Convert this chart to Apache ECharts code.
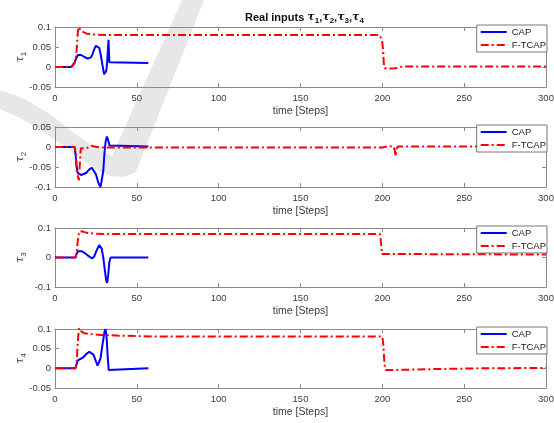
<!DOCTYPE html>
<html>
<head>
<meta charset="utf-8">
<script src="https://cdn.jsdelivr.net/npm/echarts@6/dist/echarts.min.js"></script>
<style>
  html, body { margin: 0; padding: 0; background: #fff; }
  #chart { width: 554px; height: 423px; }
</style>
</head>
<body>
<div id="chart"></div>
<script>
// ---- data: control inputs over time steps ----
const seriesNames = ['CAP', 'F-TCAP'];
const xTicks = [0, 50, 100, 150, 200, 250, 300];

const tau1Ticks = [-0.05, 0, 0.05, 0.1];
const tau2Ticks = [-0.1, -0.05, 0, 0.05];
const tau3Ticks = [-0.1, 0, 0.1];
const tau4Ticks = [-0.05, 0, 0.05, 0.1];

const tau1Cap = [[0,0],[10,0],[11,0.004],[12,0.012],[13,0.022],[14,0.03],[15,0.031],[16,0.03],[18,0.025],[20,0.021],[21,0.021],[22,0.024],[23,0.033],[24,0.045],[25,0.053],[26,0.055],[27,0.048],[28,0.03],[29,0.005],[30,-0.018],[30.7,-0.023],[31.3,-0.01],[31.8,0.008],[32.3,0.012],[32.7,0.068],[33.2,0.012],[34,0.01],[57,0.01]];
const tau1Ftcap = [[0,0],[10,0],[11,0.003],[12,0.01],[13,0.03],[13.5,0.06],[14,0.09],[14.5,0.1],[15,0.095],[16,0.09],[17,0.087],[19,0.084],[22,0.082],[26,0.0805],[35,0.08],[198,0.08],[199,0.078],[199.8,0.069],[200.5,0.04],[201,0.003],[201.5,-0.003],[205,-0.004],[208,-0.003],[212,0.001],[300,0.001]];

const tau2Cap = [[0,0],[12,0],[12.6,-0.02],[13.2,-0.05],[14,-0.066],[15,-0.07],[16,-0.07],[17,-0.069],[19,-0.065],[21,-0.056],[22.5,-0.052],[23.5,-0.054],[25,-0.068],[26.5,-0.09],[27.8,-0.1],[28.5,-0.095],[29.5,-0.06],[30.3,-0.01],[31,0.015],[31.7,0.026],[32.5,0.017],[33.3,0.004],[34.5,0],[57,0.001]];
const tau2Ftcap = [[0,0],[12,0],[12.8,-0.02],[13.4,-0.065],[14,-0.068],[14.6,-0.083],[15.2,-0.04],[15.8,-0.003],[17,-0.004],[19,-0.003],[21,0],[22.5,0.003],[24,0.001],[27,-0.001],[200,-0.001],[201,0.002],[204,0.002],[207,0.001],[207.6,-0.01],[208.2,-0.023],[208.7,-0.005],[209.5,0.001],[300,0.001]];

const tau3Cap = [[0,0],[12.5,0],[13.2,0.012],[14,0.021],[15,0.022],[16.5,0.021],[18,0.016],[20,0.007],[21.5,0.001],[22.8,-0.003],[24,0.004],[25.5,0.025],[27,0.042],[27.6,0.043],[28.5,0.03],[29.5,0],[30.5,-0.045],[31.3,-0.078],[31.9,-0.086],[32.5,-0.06],[33.2,-0.015],[34,0],[57,0]];
const tau3Ftcap = [[0,0],[12.5,0],[13.3,0.02],[14,0.06],[14.8,0.088],[15.5,0.092],[16.5,0.089],[18,0.086],[20,0.083],[24,0.081],[30,0.08],[198.6,0.08],[199.2,0.05],[199.7,0.012],[200.5,0.01],[300,0.01]];

const tau4Cap = [[0,0],[12.5,0],[13.3,0.012],[14,0.02],[15,0.022],[17,0.027],[19,0.036],[21,0.042],[22,0.042],[23.5,0.035],[25,0.018],[26,0.007],[26.8,0.008],[27.8,0.025],[29,0.06],[30.2,0.092],[30.9,0.1],[31.5,0.08],[32.2,0.03],[32.8,-0.004],[33.2,-0.007],[34,0],[57,0]];
const tau4Ftcap = [[0,0],[12.5,0],[13.3,0.02],[14,0.07],[14.6,0.102],[15.2,0.096],[16,0.092],[18,0.089],[22,0.087],[28,0.085],[40,0.083],[60,0.081],[200,0.081],[200.6,0.06],[201.3,0.01],[202,-0.004],[210,-0.004],[230,-0.002],[260,0],[300,0.001]];

// ---- panel layout ----
const panels = [
  { idx: 1, ticks: tau1Ticks, cap: tau1Cap, ftcap: tau1Ftcap, top: 27,  height: 60 },
  { idx: 2, ticks: tau2Ticks, cap: tau2Cap, ftcap: tau2Ftcap, top: 127, height: 60 },
  { idx: 3, ticks: tau3Ticks, cap: tau3Cap, ftcap: tau3Ftcap, top: 228, height: 59 },
  { idx: 4, ticks: tau4Ticks, cap: tau4Cap, ftcap: tau4Ftcap, top: 329, height: 59 }
];

const FONT = 'Liberation Sans, Arial, Helvetica, sans-serif';
const AXIS_COLOR = '#8a8a8a';
const TEXT_COLOR = '#3a3a3a';

const grids = [], xAxes = [], yAxes = [], series = [], legends = [];

panels.forEach((p, i) => {
  grids.push({ left: 55, right: 8, top: p.top, height: p.height, outerBoundsMode: 'none', containLabel: false });
  const yMin = p.ticks[0], yMax = p.ticks[p.ticks.length - 1];
  const yInt = p.ticks[1] - p.ticks[0];
  const xCommon = {
    type: 'value', gridIndex: i, min: xTicks[0], max: xTicks[xTicks.length - 1],
    interval: xTicks[1] - xTicks[0],
    axisLine: { show: true, onZero: false, lineStyle: { color: AXIS_COLOR, width: 1 } },
    axisTick: { show: true, inside: true, length: 4, lineStyle: { color: AXIS_COLOR } },
    splitLine: { show: false }
  };
  xAxes.push(Object.assign({}, xCommon, {
    position: 'bottom',
    axisLabel: { color: TEXT_COLOR, fontSize: 9.5, fontFamily: FONT, margin: 6 },
    name: 'time [Steps]', nameLocation: 'middle', nameGap: 19, nameMoveOverlap: false,
    nameTextStyle: { color: TEXT_COLOR, fontSize: 10.5, fontFamily: FONT }
  }));
  xAxes.push(Object.assign({}, xCommon, { position: 'top', axisLabel: { show: false } }));

  const yCommon = {
    type: 'value', gridIndex: i, min: yMin, max: yMax, interval: yInt,
    axisLine: { show: true, onZero: false, lineStyle: { color: AXIS_COLOR, width: 1 } },
    axisTick: { show: true, inside: true, length: 4, lineStyle: { color: AXIS_COLOR } },
    splitLine: { show: false }
  };
  yAxes.push(Object.assign({}, yCommon, {
    position: 'left',
    axisLabel: { color: TEXT_COLOR, fontSize: 9.5, fontFamily: FONT, margin: 4 },
    name: '{t|τ}{s|' + p.idx + '}', nameLocation: 'middle', nameGap: 27, nameRotate: 90,
    nameMoveOverlap: false,
    nameTextStyle: {
      rich: {
        t: { fontSize: 11, fontFamily: 'DejaVu Serif, serif', fontStyle: 'italic', color: TEXT_COLOR },
        s: { fontSize: 8, fontFamily: FONT, color: TEXT_COLOR, padding: [7, 0, 0, 0] }
      }
    }
  }));
  yAxes.push(Object.assign({}, yCommon, { position: 'right', axisLabel: { show: false } }));

  series.push({
    name: seriesNames[0], type: 'line', xAxisIndex: 2 * i, yAxisIndex: 2 * i,
    data: p.cap, symbol: 'none', z: 3,
    lineStyle: { color: '#0000ff', width: 2 }, itemStyle: { color: '#0000ff' }
  });
  series.push({
    name: seriesNames[1], type: 'line', xAxisIndex: 2 * i, yAxisIndex: 2 * i,
    data: p.ftcap, symbol: 'none', z: 4,
    lineStyle: { color: '#ff0000', width: 2, type: [8, 3, 2, 3] }, itemStyle: { color: '#ff0000' }
  });

  legends.push({
    data: seriesNames, orient: 'vertical', right: 7, top: p.top - 2, z: 20,
    backgroundColor: '#fff', borderColor: '#555', borderWidth: 0.8,
    padding: [2, 1, 2, 3], itemGap: 3, itemWidth: 26, itemHeight: 9,
    itemStyle: { opacity: 0 },
    lineStyle: { width: 2 },
    textStyle: { fontSize: 9.5, fontFamily: FONT, color: '#222' },
    selectedMode: false
  });
});

const chart = echarts.init(document.getElementById('chart'), null, { renderer: 'canvas' });
chart.setOption({
  animation: false,
  backgroundColor: '#fff',
  title: {
    left: 240, top: 5,
    text: '{b|Real inputs }{t|τ}{s|1}{b|,}{t|τ}{s|2}{b|,}{t|τ}{s|3}{b|,}{t|τ}{s|4}',
    textStyle: {
      rich: {
        b: { fontSize: 11, fontWeight: 'bold', fontFamily: FONT, color: '#111' },
        t: { fontSize: 11, fontFamily: 'DejaVu Serif, serif', fontStyle: 'italic', color: '#111' },
        s: { fontSize: 8, fontWeight: 'bold', fontFamily: FONT, color: '#111', padding: [7, 0, 0, 0] }
      }
    }
  },
  // light grey check-mark backdrop behind the first two panels
  graphic: [{
    type: 'polygon', z: -10, silent: true,
    shape: { points: [[0,90],[25,99],[50,114],[75,134],[100,150],[112,156],[182,0],[204,0],[136,172],[124,177],[110,176],[95,169],[70,150],[45,133],[20,118],[0,109]] },
    style: { fill: 'rgba(120,120,120,0.18)' }
  }],
  legend: legends,
  grid: grids,
  xAxis: xAxes,
  yAxis: yAxes,
  series: series
});
</script>
</body>
</html>
